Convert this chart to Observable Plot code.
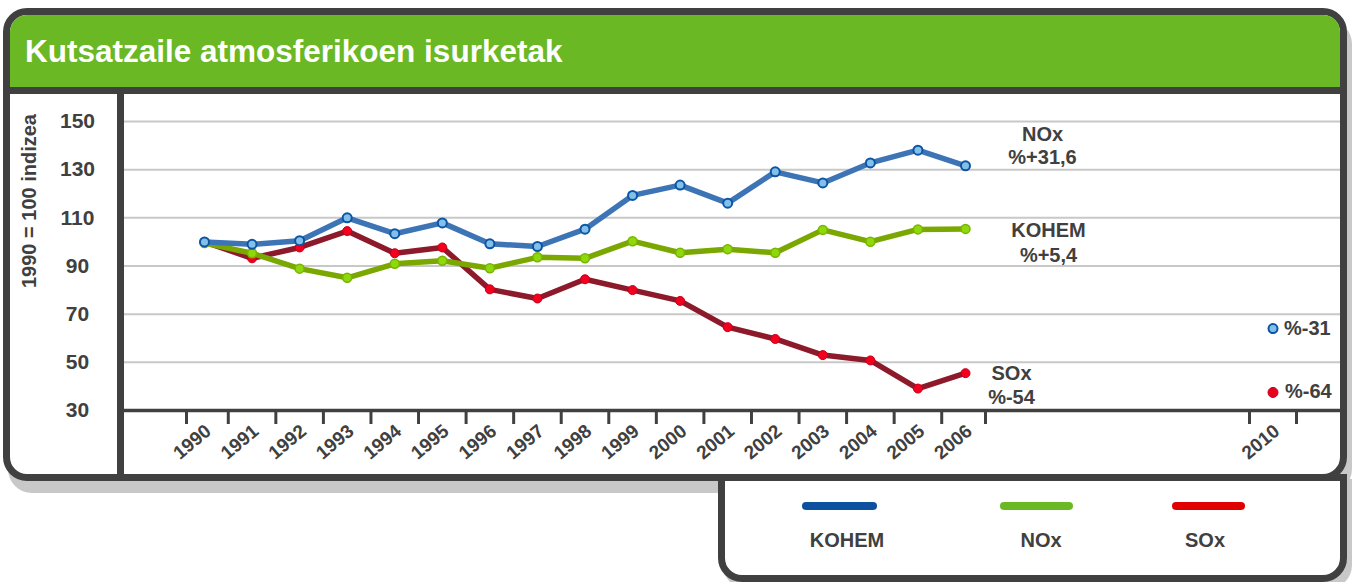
<!DOCTYPE html>
<html><head><meta charset="utf-8">
<script src="https://cdn.jsdelivr.net/npm/d3@7"></script>
<script src="https://cdn.jsdelivr.net/npm/@observablehq/plot@0.6"></script>
<style>
html,body{margin:0;padding:0;background:#fff;}
body{width:1352px;height:582px;position:relative;overflow:hidden;font-family:"Liberation Sans",Arial,sans-serif;color:#404040;}
.abs{position:absolute;box-sizing:border-box;}
#shadow{left:8px;top:20px;width:1344px;height:473px;border-radius:24px;background:#c8c8c8;}
#legendShadow{left:723px;top:479px;width:629px;height:110px;background:#c8c8c8;border-radius:0 0 24px 24px;}
#legend{left:718px;top:474px;width:629px;height:108px;border:7px solid #404040;border-radius:0 0 24px 24px;background:#fff;}
#frame{left:3px;top:8px;width:1344px;height:473px;border:7px solid #404040;border-radius:24px;background:#fff;}
#titlebar{left:10px;top:15px;width:1330px;height:79px;background:#6ab823;border-bottom:7px solid #404040;border-radius:17px 17px 0 0;}
#title{left:25px;top:36px;color:#fff;font-weight:bold;font-size:31.5px;line-height:31px;white-space:nowrap;}
#vline{left:117px;top:94px;width:7px;height:381px;background:#404040;}
#ytitle{left:-71px;top:191px;width:200px;height:20px;line-height:20px;text-align:center;font-weight:bold;font-size:20px;transform:rotate(-90deg);white-space:nowrap;}
.lg{height:8px;border-radius:4px;top:502px;}
.lt{width:200px;text-align:center;font-weight:bold;font-size:20px;line-height:20px;top:530px;}
#chart{left:0;top:0;}
</style>
</head><body>
<div id="shadow" class="abs"></div>
<div id="legendShadow" class="abs"></div>
<div id="legend" class="abs"></div>
<div id="frame" class="abs"></div>
<div id="titlebar" class="abs"></div>
<div id="title" class="abs">Kutsatzaile atmosferikoen isurketak</div>
<div id="vline" class="abs"></div>
<div id="ytitle" class="abs">1990 = 100 indizea</div>
<div id="legendItems"></div>
<div id="chart" class="abs"></div>
<script>
// ---- data ----
const years = [1990,1991,1992,1993,1994,1995,1996,1997,1998,1999,2000,2001,2002,2003,2004,2005,2006];
const kohem = [100,99,100.5,110,103.4,107.9,99.2,98.1,105.3,119.3,123.6,116.1,129.1,124.5,132.8,138.1,131.6]; // blue
const nox   = [99.5,95.3,88.9,85.1,90.9,92.2,89.1,93.6,93.2,100.3,95.5,97.0,95.5,105.0,100.1,105.2,105.4]; // green
const sox   = [100,93.2,97.7,104.5,95.3,97.7,80.3,76.5,84.5,80.0,75.5,64.6,59.7,53.0,50.8,39.1,45.5]; // red
const targetYear = 2010;
const targetKohem = 64;
const targetSox = 37.5;
const targetKohemLabel = "%-31";
const targetSoxLabel = "%-64";
const endLabelKohem = "NOx\n%+31,6";
const endLabelNox = "KOHEM\n%+5,4";
const endLabelSox = "SOx\n%-54";
const xTickLabels = [...years, targetYear];
const yTicks = [30,50,70,90,110,130,150];
const legendNames = ["KOHEM","NOx","SOx"];
const legendColors = ["#0c50a0","#6ab823","#e00000"];

// ---- legend (HTML) ----
const lgPos = [[802,75,847],[1000,73,1041],[1172,73,1205]];
const li = document.getElementById("legendItems");
legendNames.forEach((n,i)=>{
  const l = document.createElement("div");
  l.className = "abs lg";
  l.style.left = lgPos[i][0]+"px"; l.style.width = lgPos[i][1]+"px"; l.style.background = legendColors[i];
  li.appendChild(l);
  const t = document.createElement("div");
  t.className = "abs lt";
  t.style.left = (lgPos[i][2]-100)+"px";
  t.textContent = n;
  li.appendChild(t);
});

// ---- chart ----
const rows = (arr) => years.map((y,i)=>({year:y, value:arr[i]}));
const blueRows = rows(kohem), greenRows = rows(nox), redRows = rows(sox);
const last = (r) => [r[r.length-1]];
const boundaries = [...years.map(y=>y-0.5), years[years.length-1]+0.5, targetYear-0.5, targetYear+0.5];

const txt = {fontWeight:"bold", fill:"#404040", fontSize:20};

const plot = Plot.plot({
  width: 1352, height: 470,
  marginLeft: 124, marginRight: 12, marginTop: 121, marginBottom: 60,
  style: {background:"transparent", fontFamily:"Liberation Sans, Arial, sans-serif", overflow:"visible"},
  x: {type:"linear", domain:[1989.5,1990,2006,2006.5,2009.5,2010.5], range:[186,204,965,985,1249,1296]},
  y: {domain:[30,150]},
  marks: [
    Plot.gridY(yTicks.filter(v=>v>30), {stroke:"#c8c8c8", strokeOpacity:1, strokeWidth:2}),
    Plot.ruleY([30], {stroke:"#404040", strokeWidth:3.5}),
    Plot.axisX({ticks: boundaries, tickSize:14, tickFormat:()=>"", stroke:"#404040", strokeWidth:3, label:null}),
    Plot.text(xTickLabels, {x:d=>d, text:d=>String(d), frameAnchor:"bottom", dy:18, dx:4, rotate:-40, textAnchor:"end", lineAnchor:"middle", fontSize:19, fontWeight:"bold", fill:"#404040"}),
    Plot.axisY({ticks: yTicks, tickSize:0, tickPadding:47, textAnchor:"middle", fontSize:21, fontWeight:"bold", fill:"#404040", label:null}),
    Plot.line(redRows, {x:"year", y:"value", stroke:"#8c1a2b", strokeWidth:5.5}),
    Plot.dot(redRows, {x:"year", y:"value", r:4.5, fill:"#f2001e", stroke:"#c4001a", strokeWidth:1}),
    Plot.line(greenRows, {x:"year", y:"value", stroke:"#7aa800", strokeWidth:5.5}),
    Plot.dot(greenRows, {x:"year", y:"value", r:4.5, fill:"#8ed80c", stroke:"#78b400", strokeWidth:1.5}),
    Plot.line(blueRows, {x:"year", y:"value", stroke:"#3d74b6", strokeWidth:5.5}),
    Plot.dot(blueRows, {x:"year", y:"value", r:4.5, fill:"#82c0ea", stroke:"#0b55a3", strokeWidth:2}),
    Plot.text(last(blueRows), {x:"year", y:"value", text:()=>endLabelKohem, dx:77, dy:-21, lineHeight:1.2, textAnchor:"middle", lineAnchor:"middle", ...txt}),
    Plot.text(last(greenRows), {x:"year", y:"value", text:()=>endLabelNox, dx:83, dy:13, lineHeight:1.25, textAnchor:"middle", lineAnchor:"middle", ...txt}),
    Plot.text(last(redRows), {x:"year", y:"value", text:()=>endLabelSox, dx:46, dy:11, lineHeight:1.2, textAnchor:"middle", lineAnchor:"middle", ...txt}),
    Plot.dot([{year:targetYear, value:targetKohem}], {x:"year", y:"value", r:4.5, fill:"#82c0ea", stroke:"#0b55a3", strokeWidth:2}),
    Plot.dot([{year:targetYear, value:targetSox}], {x:"year", y:"value", r:5, fill:"#e8001c", stroke:"#c4001a", strokeWidth:1}),
    Plot.text([{year:targetYear, value:targetKohem}], {x:"year", y:"value", text:()=>targetKohemLabel, dx:11, textAnchor:"start", lineAnchor:"middle", ...txt}),
    Plot.text([{year:targetYear, value:targetSox}], {x:"year", y:"value", text:()=>targetSoxLabel, dx:12, dy:-1, textAnchor:"start", lineAnchor:"middle", ...txt})
  ]
});
document.getElementById("chart").appendChild(plot);
</script>
</body></html>
